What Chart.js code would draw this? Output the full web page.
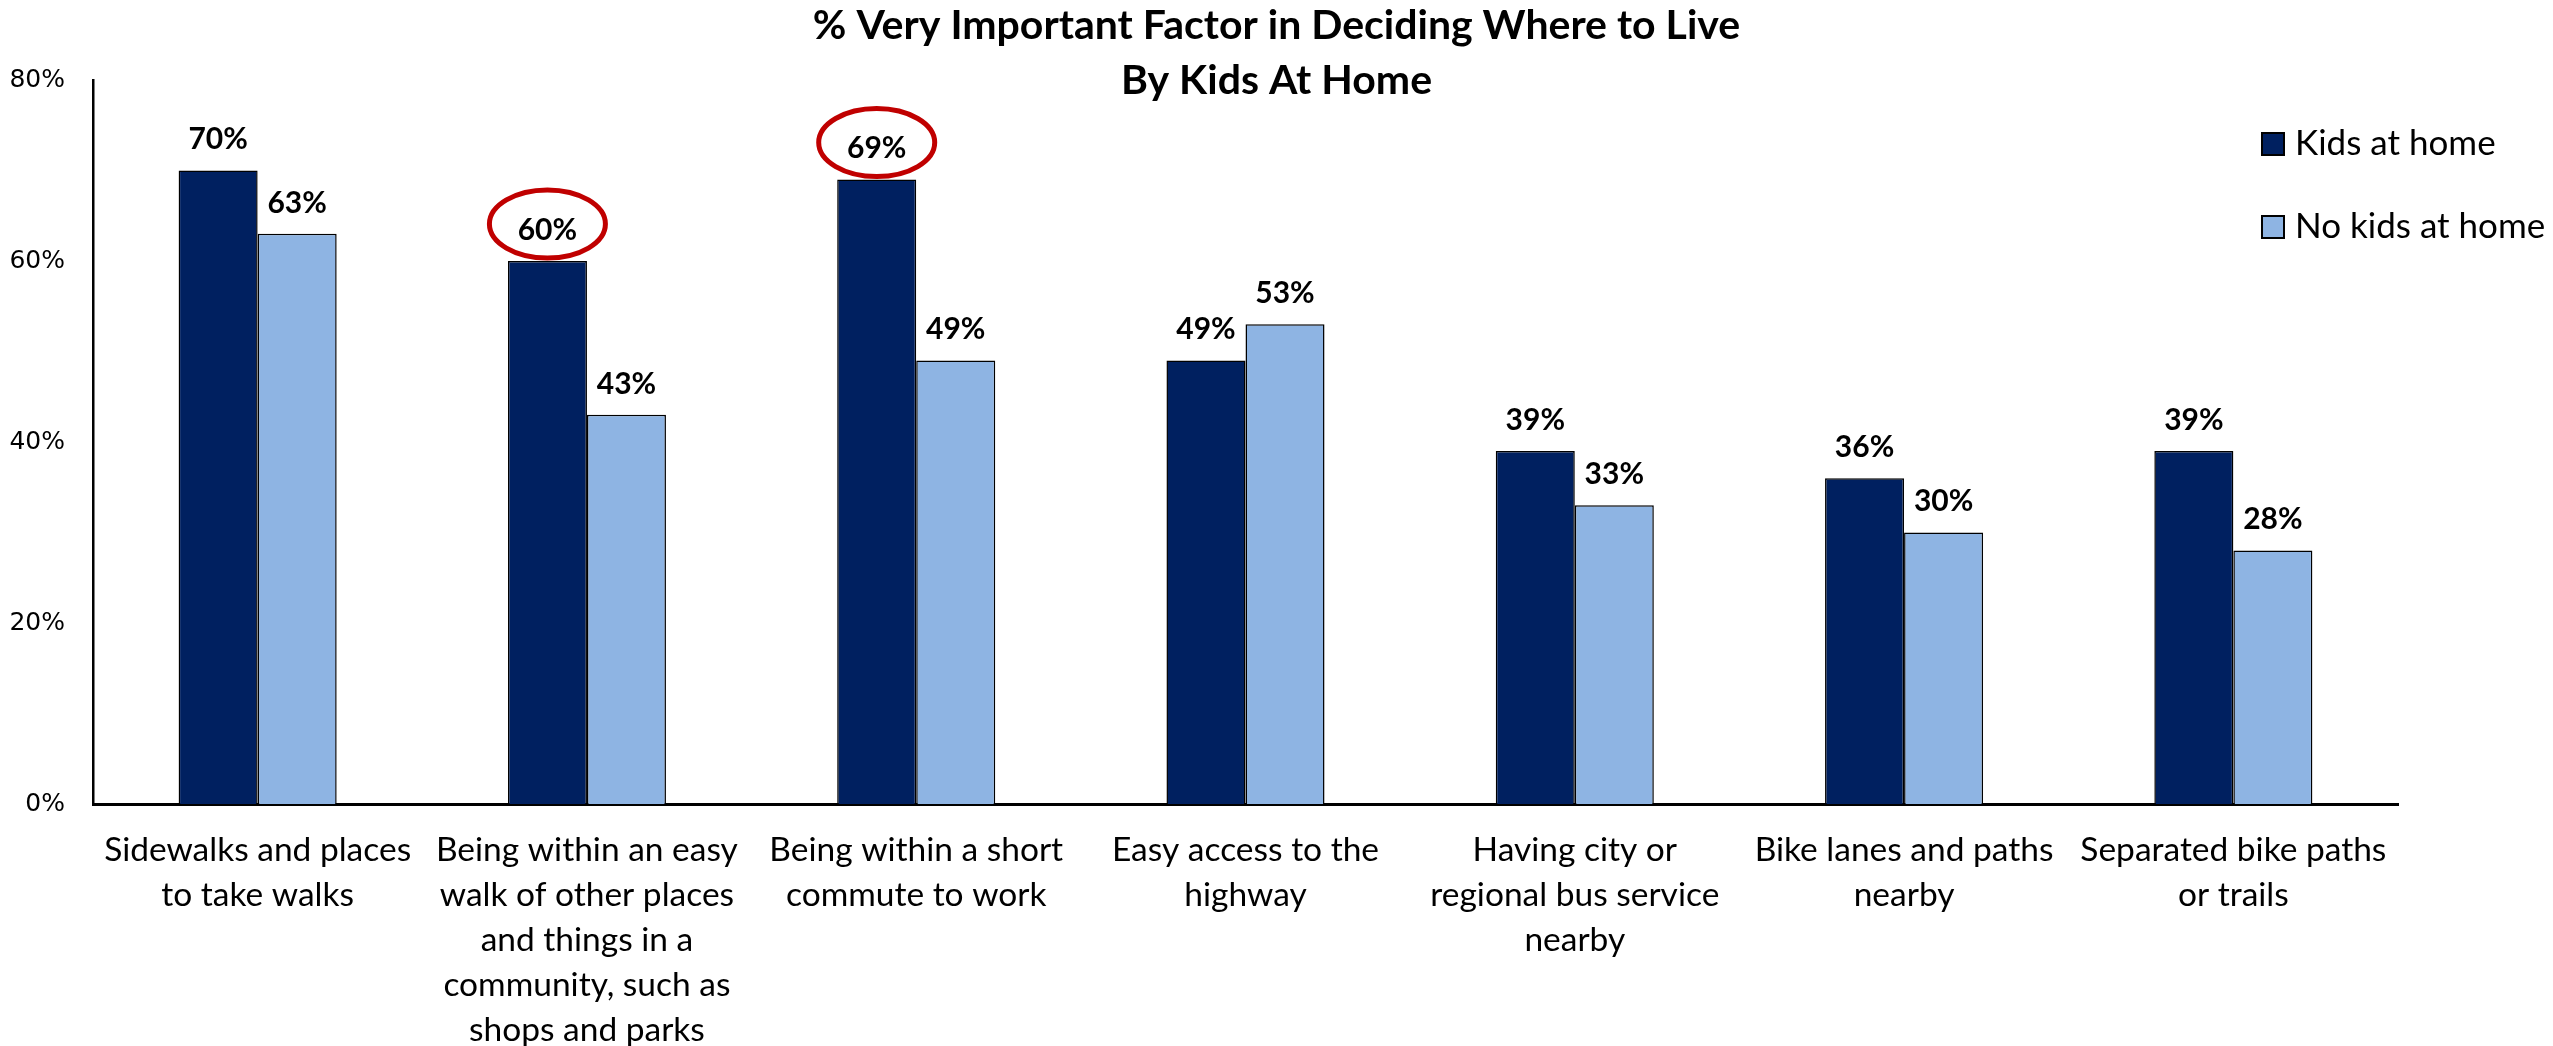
<!DOCTYPE html>
<html>
<head>
<meta charset="utf-8">
<script src="https://cdn.jsdelivr.net/npm/chart.js@4.4.1/dist/chart.umd.min.js"></script>
<style>
  html, body { margin: 0; padding: 0; background: #fff; }
  #wrap { width: 2553px; height: 1046px; }
</style>
</head>
<body>
<div id="wrap"><canvas id="chart"></canvas></div>
<script>
const categories = [
  ["Sidewalks and places", "to take walks"],
  ["Being within an easy", "walk of other places", "and things in a", "community, such as", "shops and parks"],
  ["Being within a short", "commute to work"],
  ["Easy access to the", "highway"],
  ["Having city or", "regional bus service", "nearby"],
  ["Bike lanes and paths", "nearby"],
  ["Separated bike paths", "or trails"]
]
const kidsAtHome   = [70, 60, 69, 49, 39, 36, 39]
const noKidsAtHome = [63, 43, 49, 53, 33, 30, 28]
const yTicks       = [0, 20, 40, 60, 80]
const circledKids  = [1, 2]
const titleLines   = ["% Very Important Factor in Deciding Where to Live", "By Kids At Home"]

const dark  = "#002060"
const light = "#8EB4E3"
const sans  = "Lato, 'Open Sans', sans-serif"

// value labels above bars, plus the red rings on the highlighted ones
const barLabels = {
  id: "barLabels",
  afterDatasetsDraw(chart) {
    const ctx = chart.ctx
    ctx.save()
    ctx.font = `bold 30px ${sans}`
    ctx.fillStyle = "#000"
    ctx.textAlign = "center"
    ctx.textBaseline = "middle"
    chart.data.datasets.forEach((ds, i) => {
      chart.getDatasetMeta(i).data.forEach((bar, j) => {
        ctx.fillText(ds.data[j] + "%", bar.x, bar.y - 31)
      })
    })
    ctx.strokeStyle = "#C00000"
    ctx.lineWidth = 5
    const meta = chart.getDatasetMeta(0)
    circledKids.forEach(j => {
      const bar = meta.data[j]
      ctx.beginPath()
      ctx.ellipse(bar.x, bar.y - 37, 58, 34, 0, 0, Math.PI * 2)
      ctx.stroke()
    })
    ctx.restore()
  }
}

const titleAndLegend = {
  id: "titleAndLegend",
  afterDraw(chart) {
    const ctx = chart.ctx
    ctx.save()
    ctx.fillStyle = "#000"
    ctx.textAlign = "center"
    ctx.textBaseline = "alphabetic"
    ctx.font = `bold 41px ${sans}`
    ctx.fillText(titleLines[0], chart.width / 2, 39)
    ctx.fillText(titleLines[1], chart.width / 2, 94)

    ctx.textAlign = "left"
    ctx.textBaseline = "middle"
    ctx.font = `35px ${sans}`
    chart.data.datasets.forEach((ds, i) => {
      const y = 144 + i * 83
      ctx.fillStyle = ds.backgroundColor
      ctx.fillRect(2262, y - 11, 22, 22)
      ctx.strokeStyle = "#000"
      ctx.lineWidth = 2
      ctx.strokeRect(2262, y - 11, 22, 22)
      ctx.fillStyle = "#000"
      ctx.fillText(ds.label, 2295, y)
    })
    ctx.restore()
  }
}

new Chart(document.getElementById("chart"), {
  type: "bar",
  data: {
    labels: categories,
    datasets: [
      {
        label: "Kids at home",
        data: kidsAtHome,
        backgroundColor: dark,
        borderColor: "#000",
        borderWidth: 1.5,
        borderSkipped: "bottom"
      },
      {
        label: "No kids at home",
        data: noKidsAtHome,
        backgroundColor: light,
        borderColor: "#000",
        borderWidth: 1.5,
        borderSkipped: "bottom"
      }
    ]
  },
  options: {
    responsive: true,
    maintainAspectRatio: false,
    animation: false,
    devicePixelRatio: 1,
    layout: { padding: { top: 80, right: 155, left: 0, bottom: 0 } },
    datasets: { bar: { categoryPercentage: 0.48, barPercentage: 1.0 } },
    plugins: {
      legend: { display: false },
      title:  { display: false },
      tooltip: { enabled: false }
    },
    scales: {
      x: {
        grid:   { display: false, drawTicks: false },
        border: { display: true, color: "#000", width: 3 },
        ticks: {
          color: "#000",
          maxRotation: 0,
          autoSkip: false,
          padding: 24,
          font: { family: sans, size: 33.5, lineHeight: "45px" }
        },
        afterFit: s => { s.height = 242 }
      },
      y: {
        min: 0,
        max: 80,
        grid:   { display: false, drawTicks: false },
        border: { display: true, color: "#000", width: 2.5 },
        afterBuildTicks: s => { s.ticks = yTicks.map(v => ({ value: v })) },
        ticks: {
          color: "#000",
          padding: 28,
          font: { family: "'DejaVu Sans', sans-serif", size: 25 },
          callback: v => v + "%"
        },
        afterFit: s => { s.width = 93 }
      }
    }
  },
  plugins: [barLabels, titleAndLegend]
})
</script>
</body>
</html>
